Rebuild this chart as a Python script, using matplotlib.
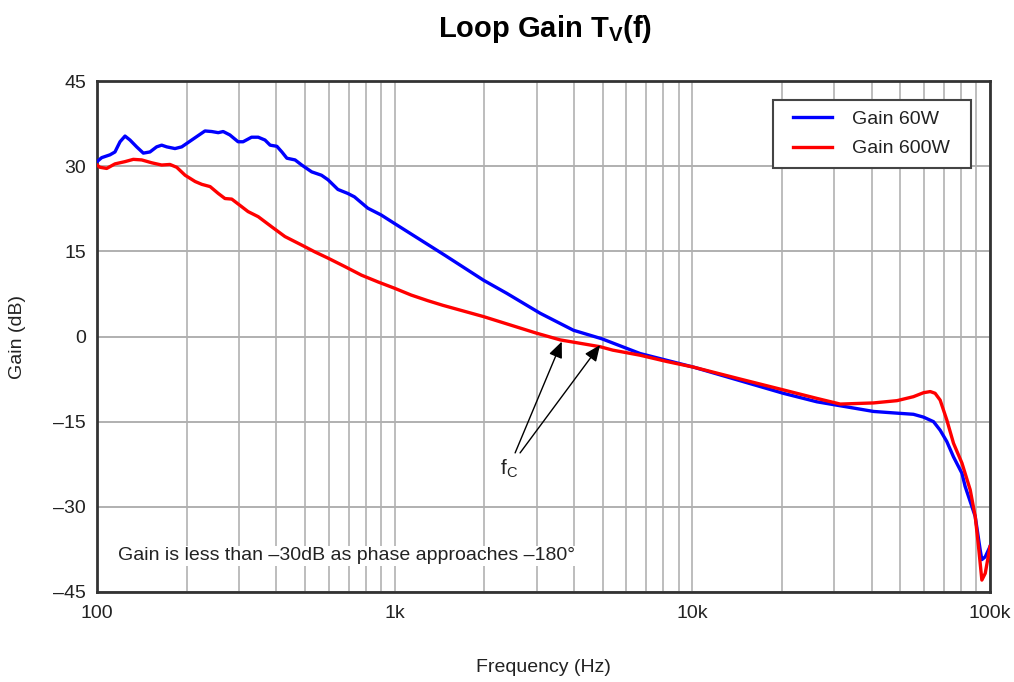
import matplotlib
matplotlib.use("Agg")
import matplotlib.pyplot as plt
from matplotlib.ticker import FixedLocator, NullFormatter
from matplotlib.patches import Rectangle

plt.rcParams['font.family'] = ['Liberation Sans', 'DejaVu Sans']
plt.rcParams['mathtext.fontset'] = 'custom'
plt.rcParams['mathtext.rm'] = 'Liberation Sans'
plt.rcParams['mathtext.bf'] = 'Liberation Sans:bold'

# ---- data ----
freq_60w = [100, 103.7, 110.6, 114.9, 119.5, 124.2, 129.1, 135.9, 143.1, 150.6,
            158.6, 164.9, 171.5, 182.8, 192.6, 208, 230.5, 242.9, 255.4, 265.4,
            279.5, 297.8, 309.6, 330.5, 348.1, 366.8, 381.6, 402, 418, 434.4,
            462.8, 487.3, 526.2, 567.9, 597.3, 644.6, 695.6, 732.4, 812.4, 901,
            999, 1475, 1990, 2381, 3080, 3986, 4964, 6677, 10100, 14500,
            20200, 26200, 31400, 40600, 48700, 55300, 59800, 64600, 68000, 71600,
            75400, 80500, 82500, 89200, 92700, 93900, 96400, 100000]
gain_60w = [30.8, 31.5, 32.0, 32.5, 34.3, 35.3, 34.6, 33.4, 32.3, 32.5,
            33.4, 33.7, 33.4, 33.1, 33.4, 34.6, 36.2, 36.1, 35.9, 36.1,
            35.5, 34.3, 34.3, 35.1, 35.1, 34.6, 33.7, 33.5, 32.5, 31.4,
            31.1, 30.2, 29.0, 28.4, 27.6, 25.9, 25.2, 24.6, 22.6, 21.4,
            19.9, 14.3, 9.9, 7.6, 4.1, 1.1, -0.4, -3.0, -5.4, -7.8,
            -10.0, -11.5, -12.2, -13.2, -13.5, -13.7, -14.2, -15.0, -16.5, -18.5,
            -21.2, -24.1, -26.4, -31.7, -37.6, -39.3, -38.8, -37.0]

freq_600w = [100, 102.3, 107.8, 114.9, 124.2, 132.4, 141.3, 152.6, 164.9, 175.8,
             185.3, 197.7, 213.6, 224.9, 239.9, 255.4, 269.1, 283.6, 305.6, 321.7,
             348.1, 386.7, 428, 487.3, 539.4, 597.3, 681.2, 773.8, 880.2, 999,
             1136, 1294, 1450, 1990, 2990, 3600, 4900, 5400, 6680, 8200,
             10100, 14500, 20200, 26200, 31400, 40600, 48700, 55300, 59800, 63000,
             65400, 68000, 71600, 75400, 80500, 85800, 89200, 91500, 93900, 96400,
             100000]
gain_600w = [30.2, 29.8, 29.6, 30.4, 30.8, 31.2, 31.1, 30.6, 30.2, 30.3,
             29.8, 28.4, 27.3, 26.8, 26.4, 25.2, 24.3, 24.2, 22.9, 22.0,
             21.1, 19.3, 17.6, 16.1, 14.9, 13.8, 12.3, 10.8, 9.6, 8.5,
             7.3, 6.3, 5.5, 3.5, 0.6, -0.6, -1.8, -2.4, -3.3, -4.4,
             -5.4, -7.5, -9.4, -10.9, -11.9, -11.7, -11.3, -10.6, -9.9, -9.7,
             -10.0, -11.2, -14.7, -18.8, -22.3, -27.0, -31.7, -37.0, -42.9, -41.7,
             -37.0]

y_ticks = [45, 30, 15, 0, -15, -30, -45]
x_ticks = [100, 1000, 10000, 100000]
x_tick_labels = ['100', '1k', '10k', '100k']
series_labels = ['Gain 60W', 'Gain 600W']

# ---- figure ----
W, H = 1014, 682
AX_L, AX_R, AX_T, AX_B = 97, 990, 81, 592
fig = plt.figure(figsize=(W / 100, H / 100), dpi=100)
ax = fig.add_axes([AX_L / W, 1 - AX_B / H, (AX_R - AX_L) / W, (AX_B - AX_T) / H])


def axfrac(px, py):
    return (px - AX_L) / (AX_R - AX_L), (AX_B - py) / (AX_B - AX_T)


ax.set_xscale('log')
ax.set_xlim(100, 100000)
ax.set_ylim(-45, 45)

minor = [m * 10**e for e in range(2, 5) for m in range(2, 10)]
ax.xaxis.set_major_locator(FixedLocator(x_ticks))
ax.xaxis.set_minor_locator(FixedLocator(minor))
ax.xaxis.set_minor_formatter(NullFormatter())
ax.set_xticks(x_ticks)
ax.set_xticklabels(x_tick_labels)
ax.set_yticks(y_ticks)
ax.set_yticklabels([str(v).replace('-', '\u2013') for v in y_ticks])

ax.grid(True, which='both', axis='x', color='#bdbdbd', lw=1.4)
ax.grid(True, which='major', axis='y', color='#b0b0b0', lw=1.4)
ax.set_axisbelow(True)
ax.tick_params(which='both', length=0, labelsize=14, colors='#222222')
ax.tick_params(axis='x', pad=9)
ax.tick_params(axis='y', pad=8)
for s in ax.spines.values():
    s.set_color('#333333')
    s.set_linewidth(2)

ax.plot(freq_60w, gain_60w, color='#0000ff', lw=2.4, label=series_labels[0],
        solid_joinstyle='round', zorder=3)
ax.plot(freq_600w, gain_600w, color='#ff0000', lw=2.4, label=series_labels[1],
        solid_joinstyle='round', zorder=3)

# legend frame drawn as a box, legend entries placed inside it
bx0, by0 = axfrac(773, 168)
bx1, by1 = axfrac(971, 100)
ax.add_patch(Rectangle((bx0, by0), bx1 - bx0, by1 - by0, transform=ax.transAxes,
                       facecolor='white', edgecolor='#444444', lw=1.5, zorder=4))
leg = ax.legend(loc='center left', bbox_to_anchor=axfrac(793, 134),
                borderaxespad=0, borderpad=0, fontsize=14, frameon=False,
                handlelength=2.0, handletextpad=1.05, labelspacing=0.6)
leg.set_zorder(5)
for t in leg.get_texts():
    t.set_color('#222222')

ax.text(*axfrac(118, 556),
        'Gain is less than \u201330dB as phase approaches \u2013180\u00b0',
        transform=ax.transAxes, fontsize=14, color='#222222', ha='left', va='center',
        bbox=dict(facecolor='white', edgecolor='none', pad=1), zorder=4)

arrow_style = dict(arrowstyle='-|>,head_length=0.65,head_width=0.28', color='black',
                   lw=1.0, mutation_scale=15, shrinkA=0, shrinkB=0)
ax.annotate('', xy=(3642, -0.9), xytext=(2539, -20.5), arrowprops=arrow_style, zorder=5)
ax.annotate('', xy=(4898, -1.5), xytext=(2638, -20.5), arrowprops=arrow_style, zorder=5)
ax.text(2420, -23.2, r'f$_{\mathrm{C}}$', fontsize=15, color='#222222',
        ha='center', va='center', zorder=5)

fig.text(545 / W, 1 - 29 / H, r'Loop Gain T$_{\mathbf{V}}$(f)', fontsize=21,
         fontweight='bold', ha='center', va='center', color='black')
fig.text(543.5 / W, 1 - 668 / H, 'Frequency (Hz)', fontsize=14, ha='center',
         va='center', color='#222222')
fig.text(18 / W, 1 - 337 / H, 'Gain (dB)', fontsize=14, ha='center', va='center',
         rotation=90, color='#222222')

fig.savefig('out.png', dpi=100)
